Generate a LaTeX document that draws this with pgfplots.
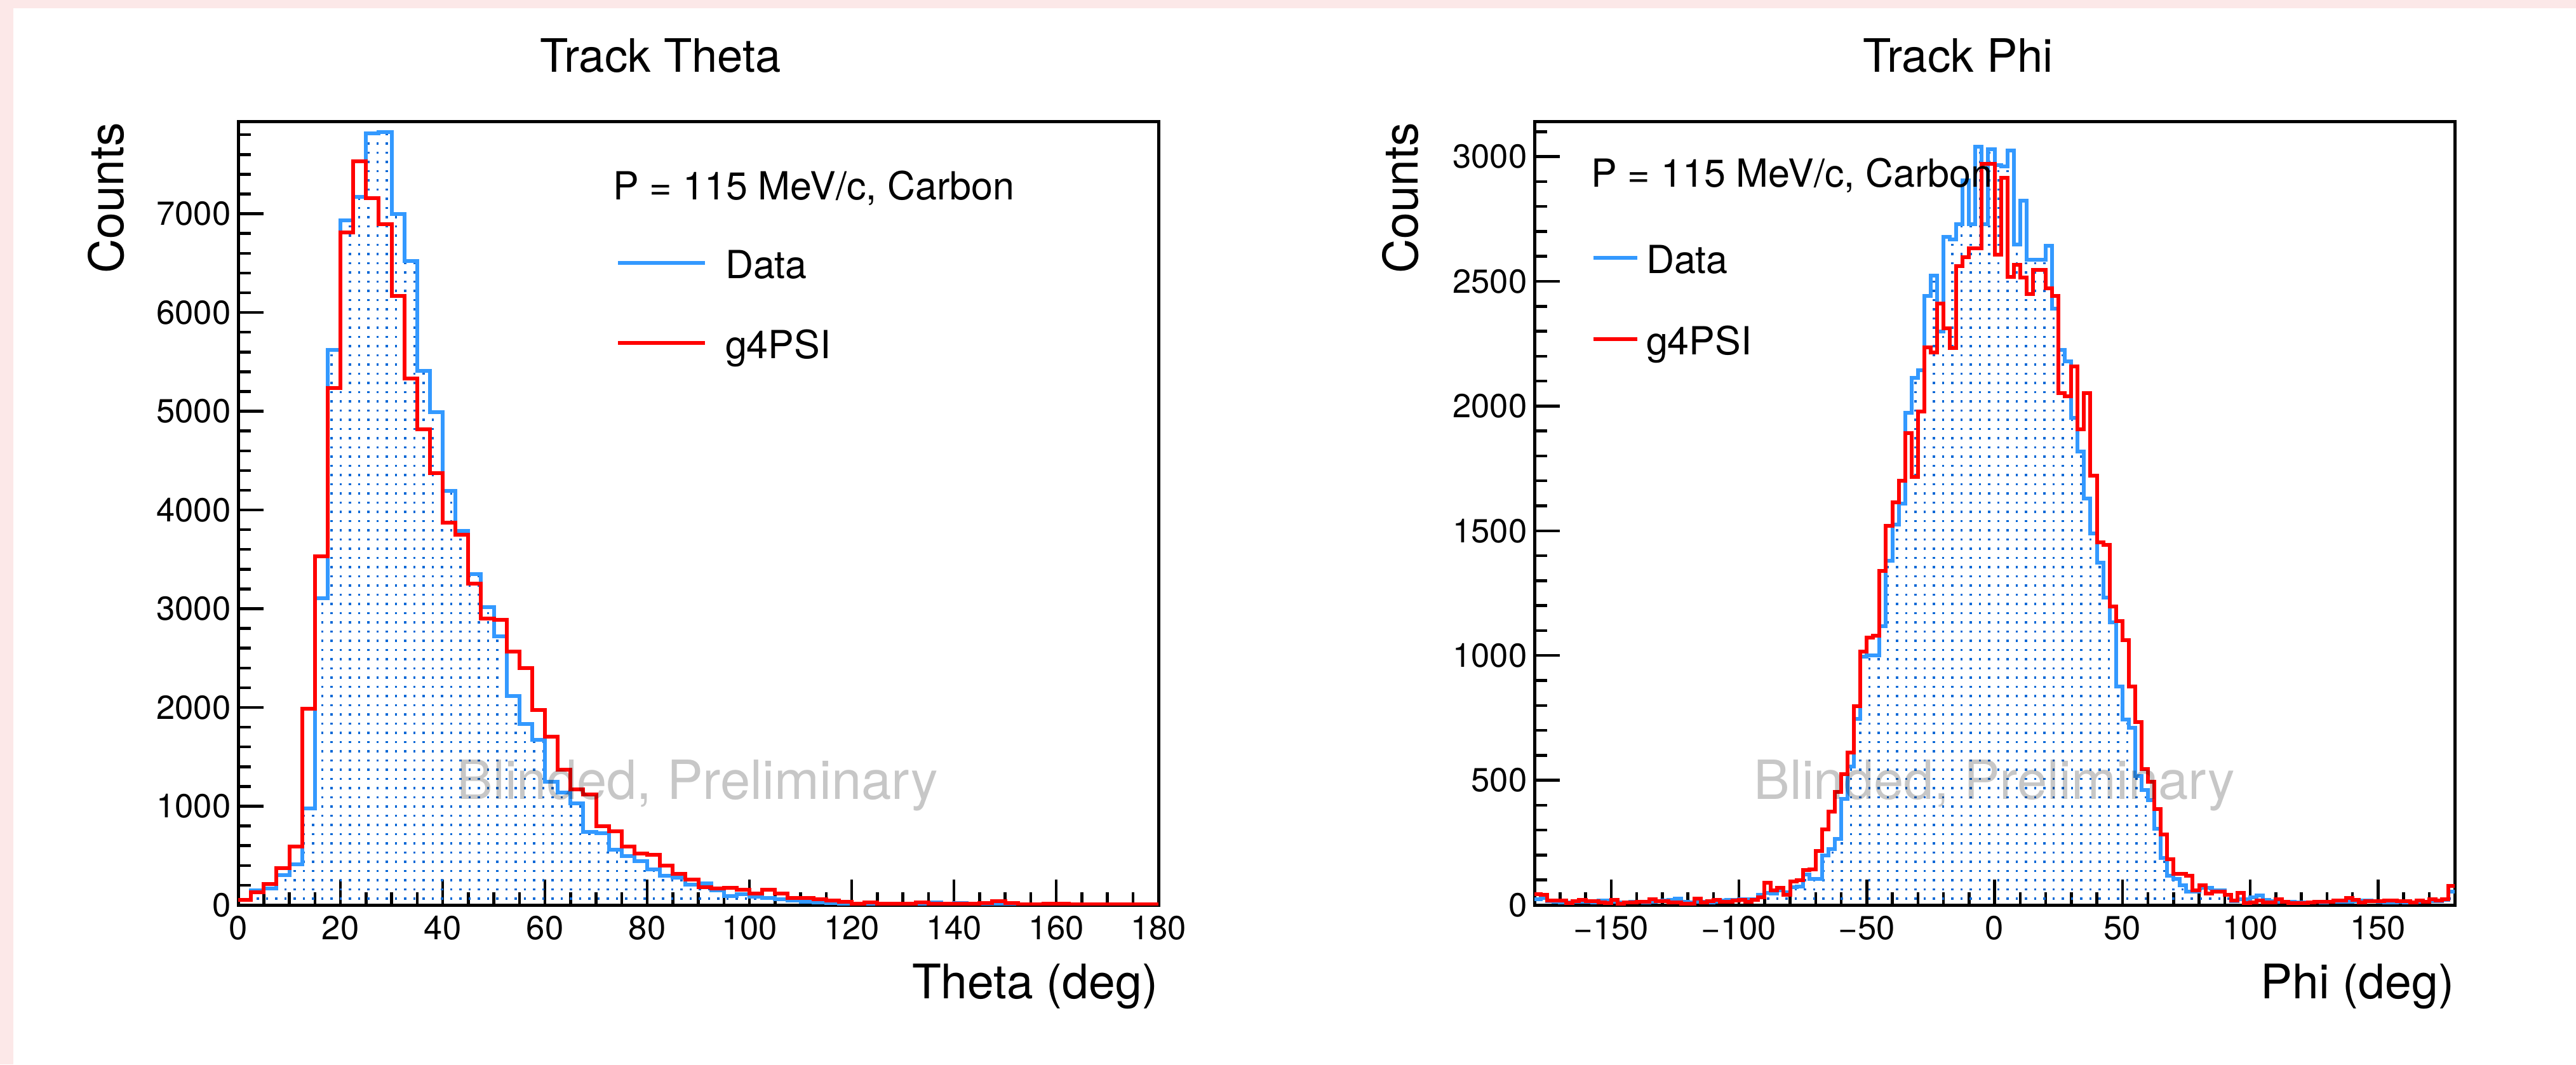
\documentclass[border=0pt]{standalone}
\usepackage{pgfplots}
\pgfplotsset{compat=1.18}
\usepackage{pgfplotstable}
\usepackage{fontspec}
\setmainfont{TeX Gyre Heros}
\usetikzlibrary{patterns}

\definecolor{datablue}{RGB}{51,153,255}
\definecolor{dotblue}{RGB}{10,104,214}
\definecolor{simred}{RGB}{255,0,0}
\definecolor{slidepink}{RGB}{252,232,232}

% small square dots for the data fill
\pgfdeclarepatternformonly{histdots}{\pgfqpoint{-0.6pt}{-0.6pt}}{\pgfqpoint{0.6pt}{0.6pt}}{\pgfqpoint{2.9pt}{2.9pt}}{%
  \pgfpathrectangle{\pgfqpoint{-0.32pt}{-0.32pt}}{\pgfqpoint{0.64pt}{0.64pt}}\pgfusepath{fill}}

% Track theta: left bin edges (2.5 deg bins), data counts, g4PSI counts
\pgfplotstableread{
x data sim
0 50 50
2.5 150 130
5 170 211
7.5 300 376
10 412 593
12.5 979 1985
15 3108 3531
17.5 5624 5237
20 6933 6809
22.5 7170 7531
25 7814 7155
27.5 7825 6897
30 7000 6165
32.5 6521 5330
35 5412 4814
37.5 4990 4371
40 4191 3871
42.5 3789 3747
45 3351 3253
47.5 3015 2902
50 2722 2887
52.5 2113 2567
55 1835 2402
57.5 1675 1974
60 1249 1706
62.5 1136 1371
65 1029 1172
67.5 737 1120
70 725 797
72.5 562 746
75 495 591
77.5 447 524
80 359 507
82.5 299 402
85 275 318
87.5 203 256
90 220 179
92.5 151 165
95 91 172
97.5 112 155
100 82 118
102.5 71 155
105 58 118
107.5 47 71
110 32 71
112.5 28 60
115 21 47
117.5 15 32
120 15 15
122.5 12 26
125 10 15
127.5 10 15
130 10 15
132.5 8 26
135 26 11
137.5 8 11
140 18 15
142.5 8 15
145 8 21
147.5 10 36
150 6 21
152.5 5 9
155 5 9
157.5 4 15
160 4 15
162.5 3 6
165 3 6
167.5 3 6
170 3 6
172.5 3 6
175 3 6
177.5 3 6
180 3 6
}\thetatab

% Track phi: left bin edges (2.5 deg bins), data counts, g4PSI counts
\pgfplotstableread{
x data sim
-180 24 43
-177.5 28 41
-175 15 17
-172.5 12 17
-170 10 17
-167.5 10 8
-165 12 15
-162.5 14 20
-160 12 15
-157.5 10 15
-155 17 11
-152.5 17 8
-150 12 20
-147.5 10 5
-145 10 11
-142.5 12 9
-140 14 14
-137.5 10 14
-135 12 22
-132.5 15 15
-130 17 15
-127.5 20 11
-125 25 11
-122.5 12 5
-120 10 5
-117.5 12 25
-115 12 11
-112.5 10 15
-110 14 21
-107.5 17 14
-105 21 14
-102.5 21 17
-100 24 20
-97.5 24 14
-95 24 20
-92.5 41 31
-90 49 90
-87.5 45 59
-85 58 70
-82.5 51 41
-80 72 94
-77.5 75 100
-75 121 141
-72.5 104 142
-70 104 217
-67.5 199 303
-65 223 373
-62.5 265 452
-60 425 525
-57.5 555 612
-55 745 797
-52.5 995 1015
-50 1000 1073
-47.5 1000 1079
-45 1118 1340
-42.5 1381 1520
-40 1526 1614
-37.5 1608 1701
-35 1972 1892
-32.5 2113 1715
-30 2143 1979
-27.5 2442 2236
-25 2524 2215
-22.5 2298 2411
-20 2679 2312
-17.5 2668 2232
-15 2730 2561
-12.5 2905 2596
-10 2730 2633
-7.5 3039 2633
-5 2730 2971
-2.5 3029 2970
0 2967 2607
2.5 2960 2916
5 3025 2518
7.5 2648 2566
10 2823 2514
12.5 2586 2448
15 2586 2545
17.5 2586 2545
20 2642 2473
22.5 2390 2442
25 2226 2051
27.5 2180 2040
30 1952 2160
32.5 1818 1907
35 1629 2051
37.5 1489 1721
40 1371 1454
42.5 1233 1443
45 1134 1196
47.5 877 1139
50 743 1062
52.5 710 877
55 517 733
57.5 460 545
60 420 495
62.5 305 385
65 189 282
67.5 117 183
70 104 125
72.5 79 125
75 53 117
77.5 53 58
80 70 79
82.5 70 47
85 58 53
87.5 58 53
90 40 42
92.5 15 19
95 24 49
97.5 24 8
100 30 11
102.5 39 17
105 20 11
107.5 15 11
110 14 22
112.5 14 14
115 12 8
117.5 10 7
120 10 7
122.5 10 10
125 12 12
127.5 10 12
130 12 14
132.5 12 17
135 12 17
137.5 14 28
140 15 20
142.5 19 11
145 19 15
147.5 15 15
150 12 15
152.5 10 19
155 10 19
157.5 12 15
160 10 15
162.5 10 11
165 12 19
167.5 12 14
170 15 22
172.5 15 19
175 20 24
177.5 53 76
180 53 76
}\phitab

\pgfplotsset{
  histframe/.style={
    scale only axis, width=289.8pt, height=246.6pt, anchor=south west,
    axis line style={line width=1pt, black},
    tick pos=left, tick align=inside,
    major tick length=8pt, minor tick length=4pt,
    tick style={black, line width=0.9pt},
    ticklabel style={font=\fontsize{10.5}{12}\selectfont},
    yticklabel style={xshift=1.2pt},
    /pgf/number format/assume math mode=true,
  },
  datafill/.style={const plot, draw=none, pattern=histdots, pattern color=dotblue, forget plot},
  dataline/.style={const plot, draw=datablue, line width=1.2pt, mark=none},
  simline/.style={const plot, draw=simred, line width=1.2pt, mark=none},
}

\newcommand{\titlefont}{\fontsize{14.5}{17}\selectfont}
\newcommand{\labelfont}{\fontsize{15}{18}\selectfont}
\newcommand{\legfont}{\fontsize{12.2}{14}\selectfont}
\newcommand{\markfont}{\fontsize{17}{20}\selectfont}

\begin{document}
\begin{tikzpicture}
\path[use as bounding box, fill=white] (0,0) rectangle (811.2pt,335.2pt);
\fill[slidepink] (0pt,332.6pt) rectangle (811.2pt,335.2pt);
\fill[slidepink] (0pt,0pt) rectangle (4.2pt,335.2pt);

% ---- Track Theta ----
\begin{axis}[histframe, at={(75pt,50.2pt)},
  xmin=0, xmax=180, ymin=0, ymax=7930,
  xtick={0,20,...,180},
  xticklabels={0,20,40,60,80,100,120,140,160,180},
  minor xtick={0,5,...,180},
  ytick={0,1000,...,7000},
  yticklabels={0,1000,2000,3000,4000,5000,6000,7000},
  minor ytick={0,200,...,7800},
]
\addplot[datafill] table[x=x,y=data]{\thetatab} \closedcycle;
\addplot[dataline] table[x=x,y=data]{\thetatab};
\addplot[simline] table[x=x,y=sim]{\thetatab};
\end{axis}

% ---- Track Phi ----
\begin{axis}[histframe, at={(483.2pt,50.2pt)},
  xmin=-180, xmax=180, ymin=0, ymax=3139,
  xtick={-150,-100,...,150},
  xticklabels={−150,−100,−50,0,50,100,150},
  minor xtick={-180,-170,...,180},
  ytick={0,500,...,3000},
  yticklabels={0,500,1000,1500,2000,2500,3000},
  minor ytick={0,100,...,3100},
]
\addplot[datafill] table[x=x,y=data]{\phitab} \closedcycle;
\addplot[dataline] table[x=x,y=data]{\phitab};
\addplot[simline] table[x=x,y=sim]{\phitab};
\end{axis}

% titles
\node[inner sep=0, anchor=base] at (208pt,312.4pt) {\titlefont Track Theta};
\node[inner sep=0, anchor=base] at (616.6pt,312.4pt) {\titlefont Track Phi};

% axis titles
\node[inner sep=0, anchor=base east, rotate=90] at (38.8pt,296.8pt) {\labelfont Counts};
\node[inner sep=0, anchor=base east, rotate=90] at (446.4pt,296.8pt) {\labelfont Counts};
\node[inner sep=0, anchor=base east] at (364.8pt,20.8pt) {\labelfont Theta (deg)};
\node[inner sep=0, anchor=base east] at (773pt,20.8pt) {\labelfont Phi (deg)};

% legend, theta panel
\node[inner sep=0, anchor=base west] at (192.8pt,272.2pt) {\legfont P = 115 MeV/c, Carbon};
\draw[datablue, line width=1.2pt] (194.6pt,252.4pt) -- (222pt,252.4pt);
\node[inner sep=0, anchor=base west] at (228.2pt,247.4pt) {\legfont Data};
\draw[simred, line width=1.2pt] (194.6pt,227.2pt) -- (222pt,227.2pt);
\node[inner sep=0, anchor=base west] at (228.2pt,222.2pt) {\legfont g4PSI};

% legend, phi panel
\node[inner sep=0, anchor=base west] at (500.8pt,276.2pt) {\legfont P = 115 MeV/c, Carbon};
\draw[datablue, line width=1.2pt] (501.8pt,254pt) -- (515.6pt,254pt);
\node[inner sep=0, anchor=base west] at (518.2pt,249pt) {\legfont Data};
\draw[simred, line width=1.2pt] (501.8pt,228.4pt) -- (515.6pt,228.4pt);
\node[inner sep=0, anchor=base west] at (518.2pt,223.4pt) {\legfont g4PSI};

% watermark
\node[inner sep=0, anchor=base, text=black, text opacity=0.22] at (219.6pt,83.6pt) {\markfont Blinded, Preliminary};
\node[inner sep=0, anchor=base, text=black, text opacity=0.22] at (628pt,83.6pt) {\markfont Blinded, Preliminary};
\end{tikzpicture}
\end{document}
